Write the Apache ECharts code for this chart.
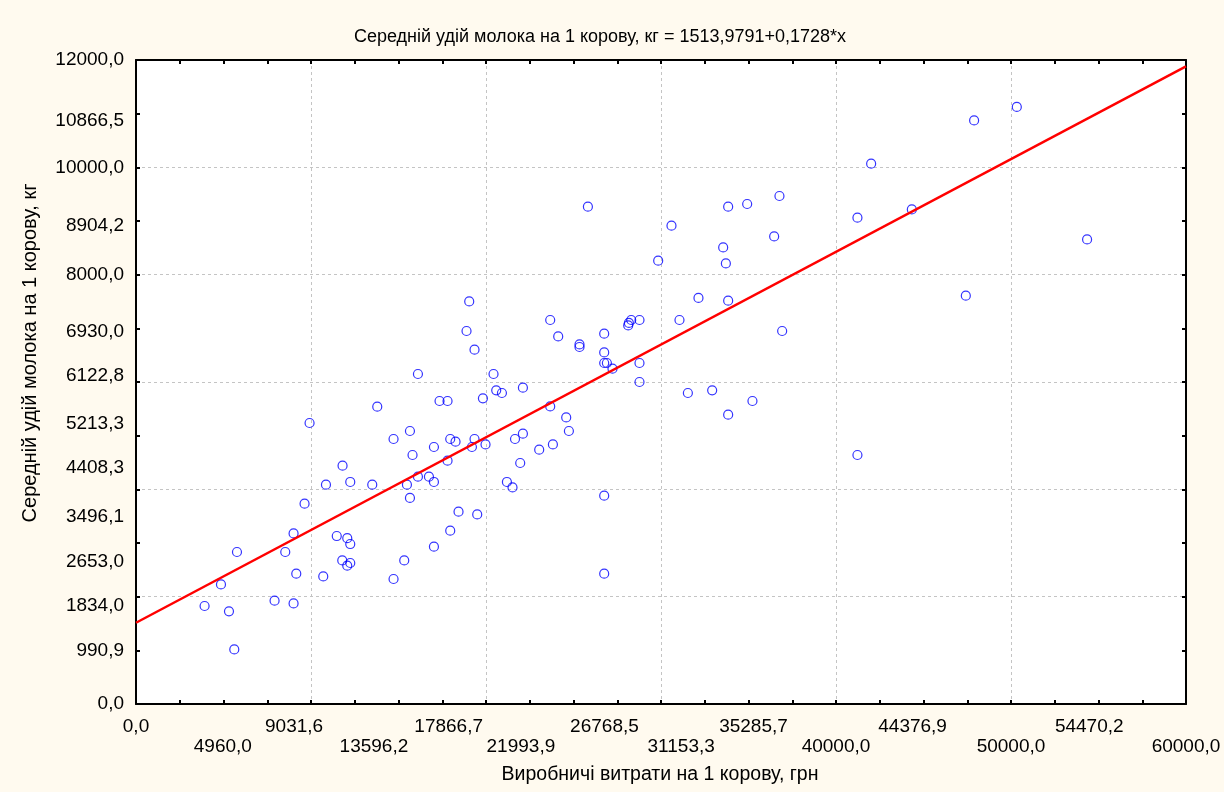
<!DOCTYPE html>
<html>
<head>
<meta charset="utf-8">
<script src="https://cdn.jsdelivr.net/npm/echarts@6/dist/echarts.min.js"></script>
<style>
html,body{margin:0;padding:0;background:#FFFAEF;}
#chart{width:1224px;height:792px;}
</style>
</head>
<body>
<div id="chart"></div>
<script>
// Production costs per cow, UAH (x) and average milk yield per cow, kg (y)
const costX = [
  3919, 4856, 5313, 5616, 5770, 7918, 8529, 9004, 9004, 9158,
  9632, 9918, 10700, 10855, 11472, 11803, 11786, 12072, 12072, 12243,
  12243, 12243, 13500, 13786, 14717, 14717, 15328, 15482, 15654, 15654,
  15802, 16111, 16111, 16739, 17025, 17025, 17025, 17345, 17802, 17802,
  17956, 17956, 18259, 18430, 18887, 19041, 19196, 19344, 19344, 19498,
  19824, 19973, 20430, 20584, 20910, 21195, 21515, 21658, 21955, 22109,
  22109, 23040, 23669, 23669, 23823, 24126, 24583, 24737, 25343, 25343,
  25823, 26754, 26754, 26754, 26908, 26754, 26754, 27228, 28125, 28165,
  28297, 28771, 28771, 28771, 29839, 30599, 31056, 31536, 32141, 32924,
  33553, 33707, 33838, 33838, 33838, 34924, 35226, 36466, 36769, 36923,
  41225, 41225, 42008, 44333, 47418, 47892, 50332, 54348
];
const yieldY = [
  1826, 2229, 1726, 1017, 2832, 1925, 2832, 3179, 1875, 2428,
  3732, 5236, 2378, 4086, 3130, 4440, 2676, 3090, 2577, 2981,
  2627, 4137, 4086, 5540, 2329, 4938, 2676, 4086, 3839, 5087,
  4640, 6149, 4236, 4236, 4789, 4137, 2931, 5646, 4534, 5646,
  3229, 4938, 4888, 3583, 6950, 7502, 4789, 6602, 4938, 3533,
  5695, 4837, 6149, 5844, 5795, 4137, 4036, 4938, 4491, 5037,
  5894, 4739, 7155, 5545, 4837, 6850, 5340, 5087, 6701, 6652,
  9267, 6900, 6552, 6354, 6354, 3881, 2428, 6248, 7055, 7100,
  7155, 7155, 6354, 6000, 8260, 8913, 7155, 5795, 7567, 5844,
  8508, 8210, 9267, 7515, 5391, 9317, 5646, 8713, 9466, 6950,
  9062, 4640, 10068, 9216, 7608, 10875, 11125, 8657
];
// Regression line: y = 1513,9791 + 0,1728*x
const intercept = 1513.9791;
const slope = 0.1728;
const lineX = [0, 60000];

const xTickLabels = [0, 4960, 9031.6, 13596.2, 17866.7, 21993.9, 26768.5, 31153.3, 35285.7, 40000, 44376.9, 50000, 54470.2, 60000];
const yTickLabels = [0, 990.9, 1834, 2653, 3496.1, 4408.3, 5213.3, 6122.8, 6930, 8000, 8904.2, 10000, 10866.5, 12000];

const titleText = 'Середній удій молока на 1 корову, кг = 1513,9791+0,1728*x';
const xName = 'Виробничі витрати на 1 корову, грн';
const yName = 'Середній удій молока на 1 корову, кг';

const FONT = '"Liberation Sans", Arial, sans-serif';
const fmt = v => v.toFixed(1).replace('.', ',');

const scatterData = costX.map((x, i) => [x, yieldY[i]]);
const lineData = lineX.map(x => [x, intercept + slope * x]);

const tickStyle = {show: true, inside: true, length: 4, lineStyle: {color: '#000', width: 2}};
const lineStyleAxis = {show: true, onZero: false, lineStyle: {color: '#000', width: 2}};
const gridSplit = {show: true, lineStyle: {color: '#c4c4c4', type: [3, 3], width: 1}};

const chart = echarts.init(document.getElementById('chart'));
chart.setOption({
  backgroundColor: '#FFFAEF',
  animation: false,
  grid: {left: 136, right: 38, top: 60, bottom: 88, show: true, backgroundColor: '#ffffff', borderWidth: 0, containLabel: false},
  xAxis: [
    {
      type: 'value', position: 'bottom', min: 0, max: 60000, interval: 2500,
      axisLine: lineStyleAxis, axisTick: tickStyle, splitLine: {show: false},
      axisLabel: {
        show: true, customValues: xTickLabels, color: '#000', fontFamily: FONT, fontSize: 19,
        lineHeight: 20, margin: 13,
        formatter: function (v) {
          const i = xTickLabels.findIndex(t => Math.abs(t - v) < 0.01);
          return (i % 2 === 1 ? '\n' : '') + fmt(v);
        }
      }
    },
    {
      type: 'value', position: 'top', min: 0, max: 60000, interval: 2500,
      axisLine: lineStyleAxis, axisTick: tickStyle, axisLabel: {show: false}, splitLine: {show: false}
    },
    {
      type: 'value', position: 'bottom', min: 0, max: 60000, interval: 10000,
      axisLine: {show: false, onZero: false}, axisTick: {show: false}, axisLabel: {show: false}, splitLine: gridSplit
    }
  ],
  yAxis: [
    {
      type: 'value', position: 'left', min: 0, max: 12000, interval: 1000,
      axisLine: lineStyleAxis, axisTick: tickStyle, splitLine: {show: false},
      axisLabel: {
        show: true, customValues: yTickLabels, color: '#000', fontFamily: FONT, fontSize: 19, margin: 12,
        formatter: v => fmt(v)
      }
    },
    {
      type: 'value', position: 'right', min: 0, max: 12000, interval: 1000,
      axisLine: lineStyleAxis, axisTick: tickStyle, axisLabel: {show: false}, splitLine: {show: false}
    },
    {
      type: 'value', position: 'left', min: 0, max: 12000, interval: 2000,
      axisLine: {show: false, onZero: false}, axisTick: {show: false}, axisLabel: {show: false}, splitLine: gridSplit
    }
  ],
  graphic: [
    {type: 'text', x: 600, y: 37, style: {text: titleText, fill: '#000', font: '18px ' + FONT, align: 'center', verticalAlign: 'middle'}},
    {type: 'text', x: 660, y: 775, style: {text: xName, fill: '#000', font: '19.5px ' + FONT, align: 'center', verticalAlign: 'middle'}},
    {type: 'text', x: 30, y: 353, rotation: Math.PI / 2, style: {text: yName, fill: '#000', font: '20px ' + FONT, align: 'center', verticalAlign: 'middle'}}
  ],
  series: [
    {
      type: 'scatter', xAxisIndex: 0, yAxisIndex: 0, data: scatterData,
      symbol: 'circle', symbolSize: 9,
      itemStyle: {color: 'rgba(255,255,255,0)', borderColor: '#0000ff', borderWidth: 1.2},
      z: 2
    },
    {
      type: 'line', xAxisIndex: 0, yAxisIndex: 0, data: lineData,
      showSymbol: false, symbol: 'none',
      lineStyle: {color: '#ff0000', width: 2.5}, z: 3
    }
  ]
});
</script>
</body>
</html>
